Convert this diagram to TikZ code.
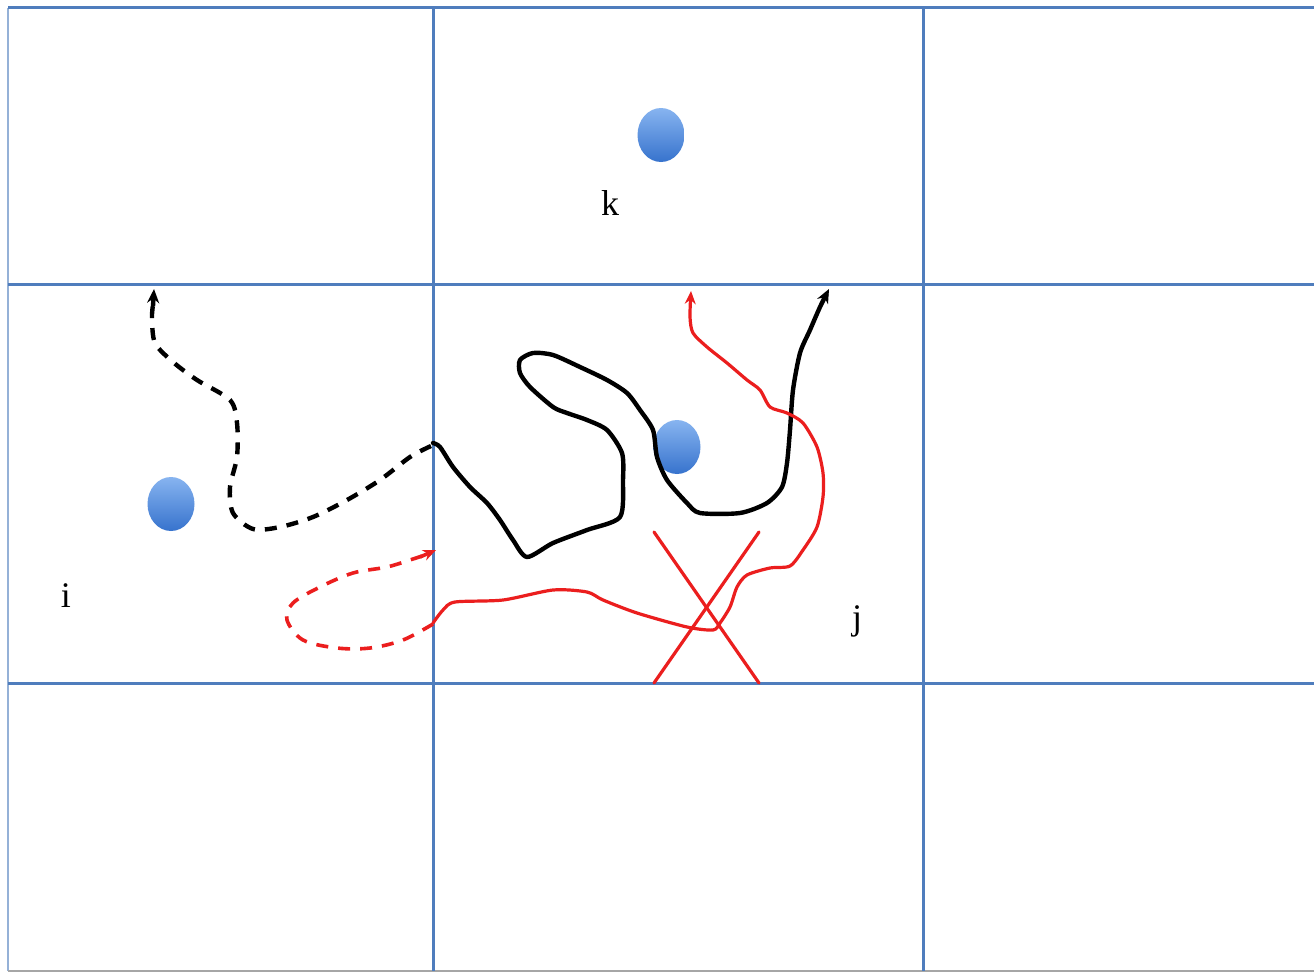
\documentclass[tikz,border=0pt]{standalone}
\usepackage{fontspec}
\setmainfont{Liberation Serif}
\usetikzlibrary{arrows.meta,shapes.geometric}
\definecolor{gridblue}{RGB}{79,125,189}
\definecolor{dottop}{RGB}{135,180,240}
\definecolor{dotbot}{RGB}{55,115,205}
\definecolor{pathred}{RGB}{235,30,30}
\tikzset{
  gridline/.style={gridblue, line width=3pt},
  blackpath/.style={black, line width=4.4pt, line join=round, line cap=round},
  blackdash/.style={black, line width=4.4pt, dash pattern=on 12pt off 10pt},
  redpath/.style={pathred, line width=3.2pt, line join=round, line cap=round},
  reddash/.style={pathred, line width=3.6pt, dash pattern=on 12pt off 10pt},
  tipb/.style={-{Stealth[length=14pt,width=12pt]}},
  tipr/.style={-{Stealth[length=13pt,width=11pt]}},
  dot/.style={ellipse, minimum width=47pt, minimum height=54pt, inner sep=0pt, top color=dottop, bottom color=dotbot, draw=none},
  lab/.style={font=\fontsize{36}{40}\selectfont, inner sep=0pt}
}
\begin{document}
\begin{tikzpicture}[x=1pt,y=-1pt]
\useasboundingbox (0,0) rectangle (1314,974);
\fill[white] (0,0) rectangle (1314,974);
% grid
\draw[gridblue!60, line width=2pt] (8,8) -- (8,971);
\draw[gray!70, line width=2pt] (8,971) -- (1314,971);
\draw[gridline] (8,8) -- (1314,8);
\draw[gridline] (8,284) -- (1314,284);
\draw[gridline] (8,683) -- (1314,683);
\draw[gridline] (433,8) -- (433,971);
\draw[gridline] (923,8) -- (923,971);
% dots
\node[dot] (dk) at (661,135) {};
\node[dot] (dc) at (677,447) {};
\node[dot] (di) at (171,504) {};
% labels
\node[lab] (lk) at (610,203) {k};
\node[lab] (li) at (66,596) {i};
\node[lab] (lj) at (857,621) {j};
% red X
\draw[redpath] (654,532) -- (759,683);
\draw[redpath] (759,532) -- (654,683);
% black dashed path
\draw[blackdash] plot[smooth, tension=0.5] coordinates {(431,446) (410,457) (380,480) (347,500) (313,517) (280,527) (253,529) (233,513) (230,487) (237,457) (237,423) (230,400) (197,380) (173,362) (155,343) (152,318) (153,305)};
\draw[black, line width=4.4pt, tipb] (153,306) -- (154,289);
% black solid path
\draw[blackpath, tipb] plot[smooth, tension=0.45] coordinates {(433,443) (440,447) (453,467) (470,487) (487,503) (500,520) (513,540) (527,557) (553,543) (587,530) (620,517) (623,480) (622,453) (607,430) (587,420) (567,413) (553,407) (530,387) (520,373) (520,360) (533,353) (553,355) (580,367) (607,380) (627,393) (640,410) (653,430) (657,457) (667,480) (687,503) (700,513) (740,513) (767,503) (782,487) (787,463) (790,430) (793,390) (800,353) (810,330) (820,307) (829,289)};
% red dashed loop
\draw[reddash] plot[smooth, tension=0.55] coordinates {(433,624) (403,640) (370,648) (337,648) (303,640) (287,620) (293,603) (320,587) (353,573) (387,567) (413,559) (422,556)};
\draw[pathred, line width=3.6pt, tipr] (420,557) -- (436,550);
% red solid path
\draw[redpath, tipr] plot[smooth, tension=0.45] coordinates {(433,623) (443,610) (455,602) (503,600) (553,590) (587,592) (603,600) (637,613) (687,627) (713,630) (720,623) (730,607) (737,587) (747,575) (770,568) (790,566) (803,550) (817,527) (823,497) (823,473) (817,447) (803,423) (787,413) (770,407) (760,390) (747,380) (727,363) (707,347) (693,333) (690,317) (691,291)};
\end{tikzpicture}
\end{document}
